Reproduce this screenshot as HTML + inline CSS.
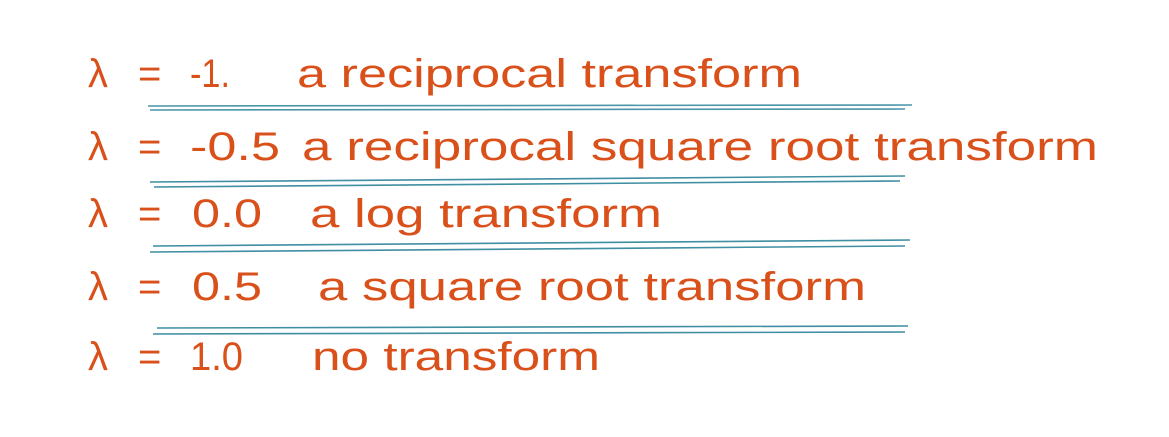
<!DOCTYPE html>
<html><head><meta charset="utf-8"><style>
html,body{margin:0;padding:0;background:#fff;}
svg{display:block}
text{font-family:"Liberation Sans","DejaVu Sans",sans-serif;fill:#d9501a;font-size:40px}
</style></head><body>
<svg width="1169" height="437" viewBox="0 0 1169 437">
<g>
<text x="88" y="87">λ</text>
<text x="138" y="87">=</text>
<text x="190" y="87" textLength="40" lengthAdjust="spacingAndGlyphs">-1.</text>
<text x="297" y="87" textLength="505" lengthAdjust="spacingAndGlyphs">a reciprocal transform</text>
</g>
<g stroke="#4a95a8" stroke-width="1.6">
<line x1="148" y1="106" x2="912" y2="105"/><line x1="150" y1="110" x2="905" y2="109"/>
</g>
<g>
<text x="88" y="160">λ</text>
<text x="138" y="160">=</text>
<text x="190" y="160" textLength="90" lengthAdjust="spacingAndGlyphs">-0.5</text>
<text x="302" y="160" textLength="796" lengthAdjust="spacingAndGlyphs">a reciprocal square root transform</text>
</g>
<g stroke="#3f8ea2" stroke-width="1.6">
<line x1="150" y1="182" x2="905" y2="176"/><line x1="154" y1="187" x2="900" y2="181"/>
</g>
<g>
<text x="88" y="227">λ</text>
<text x="138" y="227">=</text>
<text x="192" y="227" textLength="70" lengthAdjust="spacingAndGlyphs">0.0</text>
<text x="310" y="227" textLength="352" lengthAdjust="spacingAndGlyphs">a log transform</text>
</g>
<g stroke="#3f8ea2" stroke-width="1.6">
<line x1="153" y1="246" x2="910" y2="240"/><line x1="150" y1="252" x2="905" y2="246"/>
</g>
<g>
<text x="88" y="300">λ</text>
<text x="138" y="300">=</text>
<text x="192" y="300" textLength="70" lengthAdjust="spacingAndGlyphs">0.5</text>
<text x="318" y="300" textLength="548" lengthAdjust="spacingAndGlyphs">a square root transform</text>
</g>
<g stroke="#3f8ea2" stroke-width="1.6">
<line x1="157" y1="328" x2="908" y2="326"/><line x1="153" y1="334" x2="905" y2="332"/>
</g>
<g>
<text x="88" y="370">λ</text>
<text x="138" y="370">=</text>
<text x="190" y="370" textLength="53" lengthAdjust="spacingAndGlyphs">1.0</text>
<text x="312" y="370" textLength="288" lengthAdjust="spacingAndGlyphs">no transform</text>
</g>
</svg>
</body></html>
